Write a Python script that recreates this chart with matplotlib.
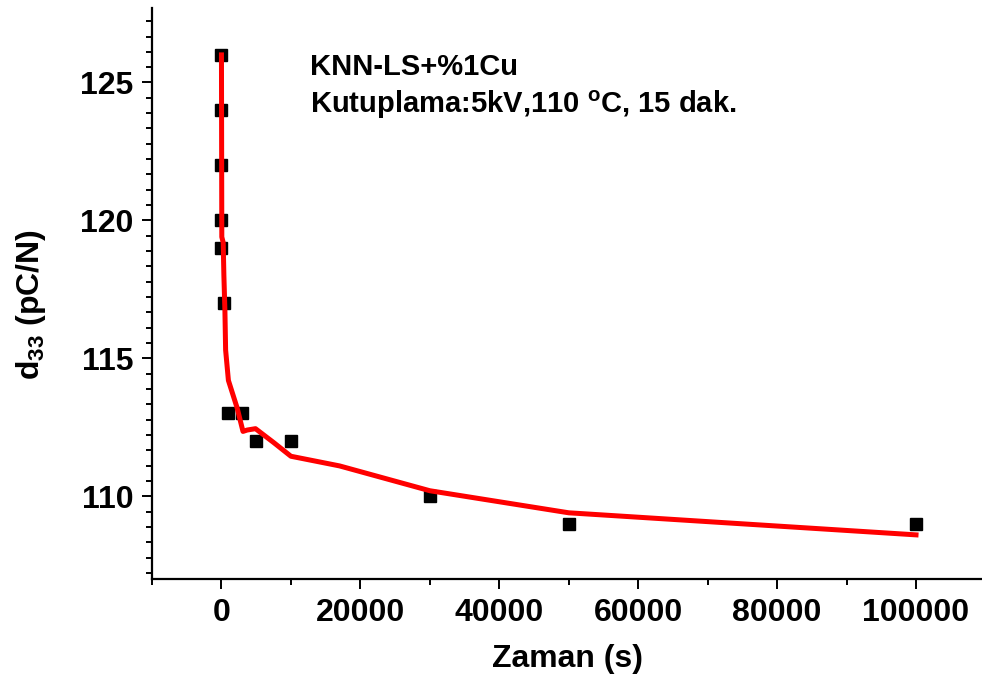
import matplotlib
matplotlib.use('Agg')
import matplotlib.pyplot as plt
from matplotlib.ticker import MultipleLocator, AutoMinorLocator

# olculen noktalar
zaman = [0, 0, 0, 0, 0, 300, 1000, 3000, 5000, 10000, 30000, 50000, 100000]
d33 = [126, 124, 122, 120, 119, 117, 113, 113, 112, 112, 110, 109, 109]

# kirmizi egri
fit_x = [0, 50, 250, 350, 500, 600, 1000, 2260, 3100, 3700, 4900, 7500, 10000, 17000, 30000, 50000, 100000]
fit_y = [126, 119.4, 119.2, 118.0, 116.7, 115.3, 114.2, 113.2, 112.35, 112.4, 112.45, 111.95, 111.45, 111.1, 110.2, 109.4, 108.6]

plt.rcParams['font.family'] = ['Liberation Sans', 'DejaVu Sans']
plt.rcParams['font.weight'] = 'bold'
plt.rcParams['mathtext.fontset'] = 'custom'
plt.rcParams['mathtext.rm'] = 'Liberation Sans:bold'
plt.rcParams['mathtext.bf'] = 'Liberation Sans:bold'

fig = plt.figure(figsize=(9.82, 6.86), dpi=100)
ax = fig.add_axes([152 / 982, 1 - 579 / 686, 830 / 982, 571 / 686])

ax.plot(fit_x, fit_y, color='#ff0000', lw=3.6, zorder=3)
ax.plot(zaman, d33, 's', color='black', ms=8.5, zorder=2)

ax.set_xlim(-10000, 109500)
ax.set_ylim(107.0, 127.7)

ax.xaxis.set_major_locator(MultipleLocator(20000))
ax.xaxis.set_minor_locator(AutoMinorLocator(2))
ax.yaxis.set_major_locator(MultipleLocator(5))
ax.yaxis.set_minor_locator(AutoMinorLocator(9))

ax.spines['top'].set_visible(False)
ax.spines['right'].set_visible(False)
ax.spines['left'].set_linewidth(1.6)
ax.spines['bottom'].set_linewidth(1.6)

ax.tick_params(which='major', direction='out', length=7.5, width=1.4, labelsize=23, pad=6)
ax.tick_params(which='minor', direction='out', length=4, width=1.4)
for lab in ax.get_xticklabels() + ax.get_yticklabels():
    lab.set_fontweight('bold')

ax.set_xlabel('Zaman (s)', fontsize=23, fontweight='bold', labelpad=12)
ax.set_ylabel(r'd$_{33}$ (pC/N)', fontsize=23, fontweight='bold')
ax.yaxis.set_label_coords(-0.125, 0.48)

ax.text(0.19, 0.897, 'KNN-LS+%1Cu', transform=ax.transAxes, fontsize=21,
        fontweight='bold', va='center', ha='left')
ax.text(0.19, 0.830, r'Kutuplama:5kV,110 $^{\mathbf{o}}$C, 15 dak.', transform=ax.transAxes,
        fontsize=21, fontweight='bold', va='center', ha='left')

fig.savefig('out.png', dpi=100)
